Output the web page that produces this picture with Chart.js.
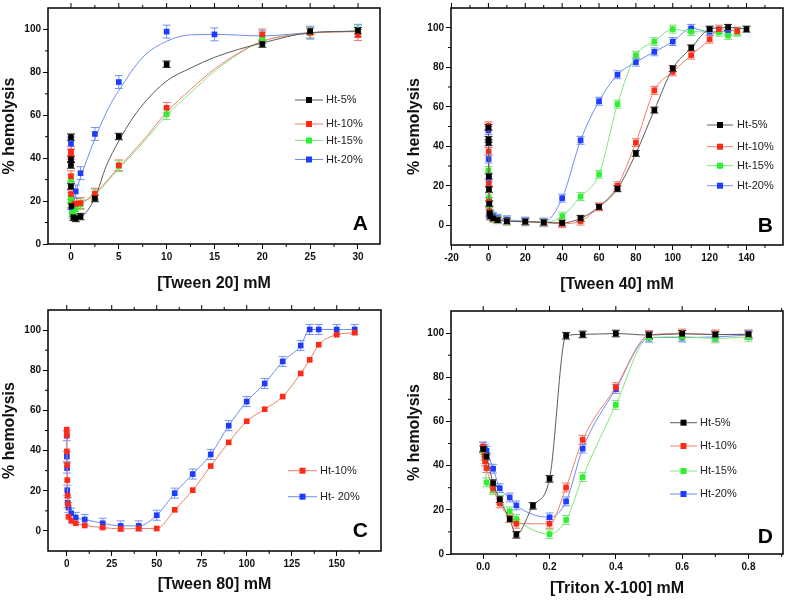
<!DOCTYPE html>
<html>
<head>
<meta charset="utf-8">
<title>Hemolysis vs detergent concentration</title>
<script src="https://cdn.jsdelivr.net/npm/chart.js@4.4.1/dist/chart.umd.min.js"></script>
<style>
  body { margin: 0; background: #fff; }
  .panel { position: absolute; }
</style>
</head>
<body>
<canvas id="chartA" class="panel" width="393" height="300" style="left:0;top:0"></canvas>
<canvas id="chartB" class="panel" width="394" height="300" style="left:393px;top:0"></canvas>
<canvas id="chartC" class="panel" width="393" height="300" style="left:0;top:300px"></canvas>
<canvas id="chartD" class="panel" width="394" height="300" style="left:393px;top:300px"></canvas>
<script>
// ---- A: Tween 20 (measured points + fitted curves) ----
const aX5 = [0, 0, 0, 0, 0.05, 0.25, 0.5, 1, 2.5, 5, 10, 20, 25, 30];
const aY5 = [49.8, 39.5, 36.8, 26.8, 17.7, 12.5, 11.9, 12.8, 21.2, 50.1, 83.8, 93.2, 99.2, 99.4];
const aX10 = [0, 0, 0, 0, 0.35, 0.6, 1, 2.5, 5, 10, 20, 25, 30];
const aY10 = [43, 41.8, 31.6, 23.3, 18.8, 18.8, 19.1, 23.5, 36.7, 63.5, 97.7, 98.5, 97.4];
const aX15 = [0, 0, 0, 0.1, 0.5, 1, 2.5, 5, 10, 20, 25, 30];
const aY15 = [30, 21.5, 19.5, 14.5, 16.2, 18.5, 23, 36.3, 60.5, 96, 98.3, 99.2];
const aX20 = [0, 0.15, 0.5, 1, 2.5, 5, 10, 15, 20, 25, 30];
const aY20 = [46.8, 15.8, 24.5, 33, 51.3, 75.5, 99, 97.7, 96.4, 98.5, 99.4];

const aFitX5 = [0.3, 1, 2.5, 3.7, 5, 6.5, 8, 10, 12.5, 15, 17.5, 20, 25, 30];
const aFitY5 = [12, 12.5, 21.5, 36.5, 48, 59, 67.5, 76, 82, 87, 90.7, 93.7, 98.5, 99.2];
const aFitX10 = [0.1, 1, 2.5, 5, 7.5, 10, 12.5, 15, 17.5, 20, 25, 30];
const aFitY10 = [18.5, 19.3, 23.5, 35.8, 48, 61.5, 72, 81.5, 89, 94.5, 98.3, 99];
const aFitX15 = [0.1, 0.5, 1, 2.5, 5, 7.5, 10, 12.5, 15, 17.5, 20, 25, 30];
const aFitY15 = [14.5, 16.5, 18.5, 23, 35, 47, 60, 70.5, 80.5, 88.5, 94.5, 98.3, 99.3];
const aFitX20 = [0.15, 0.5, 1, 2.5, 4, 5, 7.5, 10, 12.5, 15, 20, 25, 30];
const aFitY20 = [17, 24, 31, 49, 64, 71.5, 87, 94.5, 97.5, 97.7, 97, 98.5, 99.2];

// ---- B: Tween 40 ----
const bX5 = [0, 0.05, 0.1, 0.2, 0.3, 0.5, 0.75, 1, 2.5, 5, 10, 20, 30, 40, 50, 60, 70, 80, 90, 100, 110, 120, 130, 140];
const bY5 = [49.5, 43.5, 41.8, 24.8, 18.2, 10.9, 6.1, 4.6, 3.5, 2.6, 2, 1.8, 1.5, 1.2, 3.5, 9.3, 18.5, 36.4, 58.3, 79.3, 89.8, 99.3, 100.2, 99.3];
const bX10 = [0, 0.1, 0.2, 0.3, 0.5, 1, 2.5, 5, 10, 20, 30, 40, 50, 60, 70, 80, 90, 100, 110, 120, 125, 135];
const bY10 = [50.4, 37.4, 21.2, 12, 7.1, 4.6, 3.5, 2.8, 2.1, 1.8, 1.3, 0.8, 2.1, 9.3, 20, 41.8, 68.3, 77.7, 86.1, 94.2, 99.3, 98.3];
const bX15 = [0, 0.2, 0.5, 1, 2.5, 5, 10, 20, 30, 40, 50, 60, 70, 80, 90, 100, 110, 125, 130, 135];
const bY15 = [27.8, 13.7, 7.9, 5.5, 3.8, 3, 2.2, 1.8, 1.5, 4.6, 14.5, 25.8, 61.3, 86.1, 93, 99.3, 98, 97.7, 96, 97.7];
const bX20 = [0, 0.1, 0.2, 0.3, 0.5, 1, 2.5, 5, 10, 20, 30, 40, 50, 60, 70, 80, 90, 100, 110, 120, 130];
const bY20 = [48, 33.5, 24, 12, 6, 5, 4.5, 3.5, 2.8, 2.1, 1.6, 13.7, 43, 62.8, 76.2, 82.6, 87.8, 93, 99.7, 98, 98];

// ---- C: Tween 80 ----
const cX10 = [0, 0.05, 0.1, 0.2, 0.3, 0.5, 0.75, 1, 2.5, 5, 10, 20, 30, 40, 50, 60, 70, 80, 90, 100, 110, 120, 130, 135, 140, 150, 160];
const cY10 = [50.4, 47.8, 39.6, 32.8, 25.3, 17.5, 13.3, 7, 5, 3.8, 2.7, 1.7, 1, 1.2, 1.2, 10.5, 20.3, 32.3, 44.1, 54.6, 60.6, 66.9, 78.4, 85.2, 92.7, 97.7, 98.7];
const cX20 = [0, 0.1, 0.2, 0.3, 0.5, 1, 2.5, 5, 10, 20, 30, 40, 50, 60, 70, 80, 90, 100, 110, 120, 130, 135, 140, 150, 160];
const cY20 = [47.4, 37, 31.3, 20.3, 14.1, 11.6, 8.8, 6.7, 5.7, 3.8, 2.5, 2.5, 7.8, 18.8, 28.3, 38.1, 52.4, 64.4, 73.4, 84.4, 92.3, 100.3, 100.3, 100.3, 100.3];

// ---- D: Triton X-100 ----
const dX5 = [0, 0.01, 0.03, 0.05, 0.08, 0.1, 0.15, 0.2, 0.25, 0.3, 0.4, 0.5, 0.6, 0.7, 0.8];
const dY5 = [47.5, 44.1, 32.1, 24.8, 15.8, 8.7, 21.8, 34, 98.8, 99.4, 99.8, 99.1, 99.7, 99.3, 99.5];
const dX10 = [0, 0.004, 0.006, 0.01, 0.03, 0.05, 0.08, 0.1, 0.2, 0.25, 0.3, 0.4, 0.5, 0.6, 0.7, 0.8];
const dY10 = [48.6, 44.6, 41.9, 38.9, 29.7, 22.9, 16.3, 13.7, 13.7, 30.1, 51.7, 75.5, 99.1, 99.8, 99.4, 99.4];
const dX15 = [0, 0.005, 0.01, 0.03, 0.05, 0.08, 0.1, 0.2, 0.25, 0.3, 0.4, 0.5, 0.6, 0.7, 0.8];
const dY15 = [47, 43, 32.4, 29, 24.5, 19.3, 15.8, 9, 15.4, 34.8, 67.5, 98, 98.3, 97.6, 98.3];
const dX20 = [0, 0.005, 0.01, 0.03, 0.05, 0.08, 0.1, 0.2, 0.25, 0.3, 0.4, 0.5, 0.6, 0.7, 0.8];
const dY20 = [48.6, 47.6, 46.7, 38.6, 29.8, 25.6, 22, 16.6, 23.8, 47.7, 74.7, 98, 98, 98.3, 99.1];

// tick values per panel
const aXTicks = [0, 5, 10, 15, 20, 25, 30];
const bXTicks = [-20, 0, 20, 40, 60, 80, 100, 120, 140];
const cXTicks = [0, 25, 50, 75, 100, 125, 150];
const dXTicks = [0, 0.2, 0.4, 0.6, 0.8];
const yTicks = [0, 20, 40, 60, 80, 100];

const markColor = { h5: '#000000', h10: '#ff2b17', h15: '#2ef02e', h20: '#1c3cff' };
const lineColor = { h5: '#5a5a5a', h10: '#f07e6c', h15: '#7fe67f', h20: '#6f8cf2' };
const errColor = { h5: '#222222', h10: '#f0705e', h15: '#78e078', h20: '#7692f2' };

const FONT = '"Liberation Sans", Arial, sans-serif';

function pts(xs, ys) {
  return xs.map((x, i) => ({ x, y: ys[i] }));
}

function series(label, key, xs, ys, err, showLine) {
  return {
    label, key, err, showLine,
    data: pts(xs, ys),
    borderColor: lineColor[key],
    borderWidth: 1,
    cubicInterpolationMode: 'monotone',
    pointStyle: 'rect',
    pointRadius: 4,
    pointBorderWidth: 0,
    pointBackgroundColor: markColor[key],
    pointBorderColor: markColor[key],
  };
}

function fit(key, xs, ys) {
  return {
    data: pts(xs, ys), showLine: true,
    borderColor: lineColor[key], borderWidth: 1,
    cubicInterpolationMode: 'monotone', pointRadius: 0,
  };
}

function halfSteps(ticks, min, max) {
  const step = ticks[1] - ticks[0];
  const out = [];
  for (let v = ticks[0] - step / 2; v < max; v += step) {
    if (v > min) out.push(v);
  }
  return out;
}

function decor(p) {
  return {
    id: 'decor',
    beforeDatasetsDraw(chart) {
      const { ctx, scales: { y } } = chart;
      ctx.save();
      ctx.lineWidth = 1;
      chart.data.datasets.forEach((ds, i) => {
        if (!ds.err) return;
        ctx.strokeStyle = errColor[ds.key];
        chart.getDatasetMeta(i).data.forEach((pt, j) => {
          const v = ds.data[j].y;
          const t = y.getPixelForValue(v + ds.err);
          const b = y.getPixelForValue(v - ds.err);
          ctx.beginPath();
          ctx.moveTo(pt.x, t); ctx.lineTo(pt.x, b);
          ctx.moveTo(pt.x - 4, t); ctx.lineTo(pt.x + 4, t);
          ctx.moveTo(pt.x - 4, b); ctx.lineTo(pt.x + 4, b);
          ctx.stroke();
        });
      });
      ctx.restore();
    },
    afterDraw(chart) {
      const { ctx, chartArea: a, scales: { x, y } } = chart;
      ctx.save();
      ctx.strokeStyle = '#000';
      ctx.lineWidth = 1.5;
      ctx.strokeRect(a.left, a.top, a.right - a.left, a.bottom - a.top);

      // minor ticks, and ticks on the top edge
      ctx.lineWidth = 1;
      ctx.beginPath();
      halfSteps(p.xTicks, p.xMin, p.xMax).forEach((v) => {
        const px = x.getPixelForValue(v);
        ctx.moveTo(px, a.bottom); ctx.lineTo(px, a.bottom + 3);
        ctx.moveTo(px, a.top); ctx.lineTo(px, a.top - 3);
      });
      p.xTicks.forEach((v) => {
        const px = x.getPixelForValue(v);
        ctx.moveTo(px, a.top); ctx.lineTo(px, a.top - 5);
      });
      halfSteps(yTicks, p.yMin, p.yMax).forEach((v) => {
        const py = y.getPixelForValue(v);
        ctx.moveTo(a.left, py); ctx.lineTo(a.left - 3, py);
      });
      ctx.stroke();

      // legend
      const items = chart.data.datasets.filter((ds) => ds.label);
      ctx.font = '11px ' + FONT;
      ctx.textBaseline = 'middle';
      items.forEach((ds, i) => {
        const ry = p.legendRows[i];
        ctx.strokeStyle = lineColor[ds.key];
        ctx.beginPath();
        ctx.moveTo(p.legendX[0], ry); ctx.lineTo(p.legendX[1], ry);
        ctx.stroke();
        const mid = (p.legendX[0] + p.legendX[1]) / 2;
        ctx.fillStyle = markColor[ds.key];
        ctx.fillRect(mid - 3, ry - 3, 6, 6);
        ctx.fillStyle = '#222';
        ctx.fillText(ds.label, p.legendX[2], ry);
      });

      // panel letter
      ctx.font = 'bold 21px ' + FONT;
      ctx.textAlign = 'right';
      ctx.textBaseline = 'alphabetic';
      ctx.fillStyle = '#000';
      ctx.fillText(p.letter, p.letterPos[0], p.letterPos[1]);
      ctx.restore();
    },
  };
}

function makeChart(id, datasets, p) {
  const tickFont = { family: FONT, size: 10, weight: 'bold' };
  const titleFont = { family: FONT, size: 16, weight: 'bold' };
  return new Chart(document.getElementById(id), {
    type: 'scatter',
    data: { datasets },
    plugins: [decor(p)],
    options: {
      responsive: false,
      animation: false,
      events: [],
      layout: { padding: { top: p.pad[0], right: p.pad[1], bottom: 0, left: 0 } },
      plugins: { legend: { display: false }, tooltip: { enabled: false } },
      scales: {
        x: {
          type: 'linear', min: p.xMin, max: p.xMax,
          afterBuildTicks: (s) => { s.ticks = p.xTicks.map((v) => ({ value: v })); },
          afterFit: (s) => { s.height = p.xAxisH; },
          grid: { drawOnChartArea: false, tickLength: 5, tickColor: '#000' },
          border: { display: false },
          ticks: { padding: 2, color: '#111', font: tickFont, maxRotation: 0, autoSkip: false,
                   callback: (v) => v.toFixed(p.xDec) },
          title: { display: true, text: p.xTitle, color: '#111', font: titleFont,
                   padding: { top: 0, bottom: p.xTitlePad } },
        },
        y: {
          type: 'linear', min: p.yMin, max: p.yMax,
          afterBuildTicks: (s) => { s.ticks = yTicks.map((v) => ({ value: v })); },
          afterFit: (s) => { s.width = p.yAxisW; },
          grid: { drawOnChartArea: false, tickLength: 5, tickColor: '#000' },
          border: { display: false },
          ticks: { padding: 2, color: '#111', font: tickFont },
          title: { display: true, text: '% hemolysis', color: '#111', font: titleFont,
                   padding: { top: p.yTitlePad, bottom: 0 } },
        },
      },
    },
  });
}

makeChart('chartA', [
  series('Ht-5%', 'h5', aX5, aY5, 1.5, false),
  series('Ht-10%', 'h10', aX10, aY10, 2.5, false),
  series('Ht-15%', 'h15', aX15, aY15, 2.5, false),
  series('Ht-20%', 'h20', aX20, aY20, 3, false),
  fit('h5', aFitX5, aFitY5),
  fit('h10', aFitX10, aFitY10),
  fit('h15', aFitX15, aFitY15),
  fit('h20', aFitX20, aFitY20),
], {
  xMin: -2.4, xMax: 32.3, yMin: 0, yMax: 110, xTicks: aXTicks, xDec: 0,
  pad: [1, 13], xAxisH: 56, yAxisW: 48, xTitlePad: 7, yTitlePad: 0,
  xTitle: '[Tween 20] mM', letter: 'A', letterPos: [368, 230],
  legendRows: [100, 124, 140.5, 159.5], legendX: [295, 323, 326],
});

makeChart('chartB', [
  series('Ht-5%', 'h5', bX5, bY5, 1.5, true),
  series('Ht-10%', 'h10', bX10, bY10, 2, true),
  series('Ht-15%', 'h15', bX15, bY15, 2, true),
  series('Ht-20%', 'h20', bX20, bY20, 2, true),
], {
  xMin: -20.3, xMax: 159.8, yMin: -10, yMax: 110, xTicks: bXTicks, xDec: 0,
  pad: [2, 2], xAxisH: 55, yAxisW: 58, xTitlePad: 6, yTitlePad: 12,
  xTitle: '[Tween 40] mM', letter: 'B', letterPos: [380, 232],
  legendRows: [125, 146.7, 165.7, 185.7], legendX: [314, 340, 344],
});

makeChart('chartC', [
  series('Ht-10%', 'h10', cX10, cY10, 0, true),
  series('Ht- 20%', 'h20', cX20, cY20, 2.5, true),
], {
  xMin: -10.4, xMax: 174.6, yMin: -10, yMax: 110, xTicks: cXTicks, xDec: 0,
  pad: [10, 12], xAxisH: 49, yAxisW: 48, xTitlePad: 6, yTitlePad: 0,
  xTitle: '[Tween 80] mM', letter: 'C', letterPos: [368, 237],
  legendRows: [170.7, 196.7], legendX: [288, 317, 320],
});

makeChart('chartD', [
  series('Ht-5%', 'h5', dX5, dY5, 1.5, true),
  series('Ht-10%', 'h10', dX10, dY10, 2, true),
  series('Ht-15%', 'h15', dX15, dY15, 2, true),
  series('Ht-20%', 'h20', dX20, dY20, 2, true),
], {
  xMin: -0.097, xMax: 0.904, yMin: 0, yMax: 110, xTicks: dXTicks, xDec: 1,
  pad: [11, 4], xAxisH: 46, yAxisW: 58, xTitlePad: 2, yTitlePad: 12,
  xTitle: '[Triton X-100] mM', letter: 'D', letterPos: [380, 243],
  legendRows: [122.7, 146, 171, 194], legendX: [277, 304, 307],
});
</script>
</body>
</html>
